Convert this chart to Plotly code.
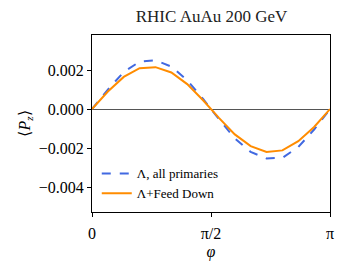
import numpy as np
import plotly.graph_objects as go

n_points = 16
phi = [k * np.pi / (n_points - 1) for k in range(n_points)]

pz_primaries = [0.0, 0.00100, 0.00190, 0.00243, 0.00250, 0.00218, 0.00148, 0.00052,
                -0.00052, -0.00150, -0.00220, -0.00253, -0.00250, -0.00195, -0.00105, 0.0]
pz_feeddown = [0.0, 0.00090, 0.00165, 0.00210, 0.00215, 0.00188, 0.00128, 0.00045,
               -0.00045, -0.00130, -0.00190, -0.00220, -0.00212, -0.00165, -0.00092, 0.0]

x_tickvals = [0, np.pi / 2, np.pi]
x_ticktext = ["0", "π/2", "π"]
y_tickvals = [0.002, 0.0, -0.002, -0.004]
y_ticktext = ["0.002", "0.000", "−0.002", "−0.004"]

font_family = "Liberation Serif"

fig = go.Figure()
fig.add_trace(go.Scatter(x=phi, y=pz_primaries, mode="lines",
                         name="Λ, all primaries",
                         line=dict(color="#4169E1", width=2, dash="dash")))
fig.add_trace(go.Scatter(x=phi, y=pz_feeddown, mode="lines",
                         name="Λ+Feed Down",
                         line=dict(color="#FF8C00", width=2)))

fig.update_layout(
    width=344, height=269,
    margin=dict(l=92, r=14, t=35, b=57, autoexpand=False),
    paper_bgcolor="white", plot_bgcolor="white",
    font=dict(family=font_family, size=16, color="black"),
    title=dict(text="RHIC AuAu 200 GeV", x=0.615, xanchor="center",
               y=0.94, yanchor="middle", font=dict(size=17, color="#222222")),
    showlegend=True,
    legend=dict(x=0.02, y=0.02, xanchor="left", yanchor="bottom",
                bgcolor="rgba(255,255,255,0)", borderwidth=0,
                font=dict(size=13), tracegroupgap=0, itemwidth=30),
    xaxis=dict(range=[0, np.pi], tickvals=x_tickvals, ticktext=x_ticktext,
               showgrid=False, zeroline=False, showline=True, linecolor="black",
               linewidth=1, mirror=True, ticks="outside", ticklen=4,
               tickcolor="black", automargin=False, ticklabelstandoff=3,
               title=dict(text="<i>φ</i>", standoff=4, font=dict(size=16))),
    yaxis=dict(range=[-0.00528, 0.0038], tickvals=y_tickvals, ticktext=y_ticktext,
               showgrid=False, zeroline=True, zerolinecolor="#555555",
               zerolinewidth=1.2, showline=True, linecolor="black",
               linewidth=1, mirror=True, ticks="outside", ticklen=4,
               tickcolor="black", automargin=False,
               title=dict(text="⟨<i>P</i><sub><i>z</i></sub>⟩", standoff=4,
                          font=dict(size=16))),
)

fig.write_html("out.html", config={"displayModeBar": False},
               post_script="document.body.style.margin='0';")
